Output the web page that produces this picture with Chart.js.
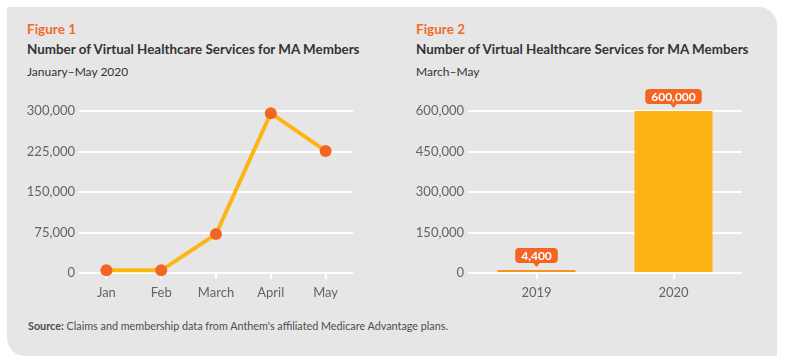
<!DOCTYPE html>
<html lang="en">
<head>
    <meta charset="UTF-8">
    <title>Virtual Healthcare Services for MA Members</title>
    <script src="https://cdn.jsdelivr.net/npm/chart.js"></script>
    <style>
        body {
            margin: 0;
            width: 787px;
            height: 363px;
            background: #ffffff;
            font-family: Lato, sans-serif;
            position: relative;
            overflow: hidden;
        }
        .panel {
            position: absolute;
            left: 7px;
            top: 7px;
            width: 770px;
            height: 349px;
            background: #e6e6e6;
            border-radius: 0 18px 0 18px;
        }
        .fig {
            position: absolute;
            color: #f26b2b;
            font-weight: bold;
            font-size: 13.5px;
        }
        .title {
            position: absolute;
            color: #333335;
            font-weight: bold;
            font-size: 13.4px;
            white-space: nowrap;
        }
        .sub {
            position: absolute;
            color: #333335;
            font-size: 12px;
        }
        .source {
            position: absolute;
            left: 28px;
            top: 319px;
            color: #4d4d4f;
            font-size: 10.8px;
            white-space: nowrap;
        }
        canvas {
            position: absolute;
        }
    </style>
</head>
<body>
    <div class="panel"></div>

    <div class="fig" style="left:27px; top:21px;">Figure 1</div>
    <div class="title" style="left:27px; top:41px;">Number of Virtual Healthcare Services for MA Members</div>
    <div class="sub" style="left:27px; top:64px;">January–May 2020</div>

    <div class="fig" style="left:416px; top:21px;">Figure 2</div>
    <div class="title" style="left:416px; top:41px;">Number of Virtual Healthcare Services for MA Members</div>
    <div class="sub" style="left:416px; top:64px;">March–May</div>

    <div class="source"><b>Source:</b> Claims and membership data from Anthem's affiliated Medicare Advantage plans.</div>

    <canvas id="lineChart" style="left:7px; top:80px;" width="360" height="223"></canvas>
    <canvas id="barChart" style="left:396px; top:80px;" width="360" height="223"></canvas>

    <script>
        // Figure 1 data
        const months = ['Jan', 'Feb', 'March', 'April', 'May'];
        const monthlyServices = [5000, 5000, 72000, 296000, 226000];
        const lineTicks = [0, 75000, 150000, 225000, 300000];

        // Figure 2 data
        const years = ['2019', '2020'];
        const yearlyServices = [4400, 600000];
        const yearlyLabels = ['4,400', '600,000'];
        const barTicks = [0, 150000, 300000, 450000, 600000];

        Chart.defaults.font.family = 'Lato, sans-serif';
        Chart.defaults.color = '#6d6e71';

        const tickColor = '#636466';

        function yScale(ticks) {
            return {
                min: ticks[0],
                max: ticks[ticks.length - 1],
                afterFit: s => { s.width = 72; },
                afterBuildTicks: s => { s.ticks = ticks.map(v => ({ value: v })); },
                border: { display: false },
                grid: { color: '#ffffff', lineWidth: 2, drawTicks: false },
                ticks: {
                    padding: 4,
                    color: tickColor,
                    font: { size: 13 },
                    callback: v => v.toLocaleString('en-US')
                }
            };
        }

        function xScale() {
            return {
                offset: true,
                afterFit: s => { s.height = 30; },
                border: { display: false },
                grid: {
                    offset: false,
                    drawOnChartArea: false,
                    color: '#ffffff',
                    lineWidth: 2,
                    tickLength: 6
                },
                ticks: { padding: 6, color: tickColor, font: { size: 13 } }
            };
        }

        new Chart(document.getElementById('lineChart'), {
            type: 'line',
            data: {
                labels: months,
                datasets: [{
                    data: monthlyServices,
                    borderColor: '#fdb515',
                    borderWidth: 4,
                    pointBackgroundColor: '#f26522',
                    pointBorderWidth: 0,
                    pointRadius: 6,
                    tension: 0,
                    clip: false
                }]
            },
            options: {
                responsive: false,
                animation: false,
                layout: { padding: { top: 31, right: 14, left: 0, bottom: 0 } },
                plugins: { legend: { display: false }, tooltip: { enabled: false } },
                scales: { x: xScale(), y: yScale(lineTicks) }
            }
        });

        // rounded callout with a small pointer above each bar
        const callouts = {
            id: 'callouts',
            afterDatasetsDraw(chart) {
                const ctx = chart.ctx;
                const meta = chart.getDatasetMeta(0);
                ctx.save();
                ctx.font = 'bold 12px Lato, sans-serif';
                meta.data.forEach((bar, i) => {
                    const text = yearlyLabels[i];
                    const w = ctx.measureText(text).width + 12;
                    const h = 15;
                    const tip = bar.y - 3;
                    const bottom = tip - 4;
                    const top = bottom - h;
                    ctx.fillStyle = '#f26522';
                    ctx.beginPath();
                    ctx.roundRect(bar.x - w / 2, top, w, h, 4);
                    ctx.fill();
                    ctx.beginPath();
                    ctx.moveTo(bar.x - 4, bottom - 1);
                    ctx.lineTo(bar.x + 4, bottom - 1);
                    ctx.lineTo(bar.x, tip);
                    ctx.closePath();
                    ctx.fill();
                    ctx.fillStyle = '#ffffff';
                    ctx.textAlign = 'center';
                    ctx.textBaseline = 'middle';
                    ctx.fillText(text, bar.x, top + h / 2 + 0.5);
                });
                ctx.restore();
            }
        };

        new Chart(document.getElementById('barChart'), {
            type: 'bar',
            data: {
                labels: years,
                datasets: [{
                    data: yearlyServices,
                    backgroundColor: ['#f7941e', '#fdb515'],
                    barPercentage: 0.57,
                    categoryPercentage: 1,
                    minBarLength: 3
                }]
            },
            options: {
                responsive: false,
                animation: false,
                layout: { padding: { top: 31, right: 14, left: 0, bottom: 0 } },
                plugins: { legend: { display: false }, tooltip: { enabled: false } },
                scales: { x: xScale(), y: yScale(barTicks) }
            },
            plugins: [callouts]
        });
    </script>
</body>
</html>
